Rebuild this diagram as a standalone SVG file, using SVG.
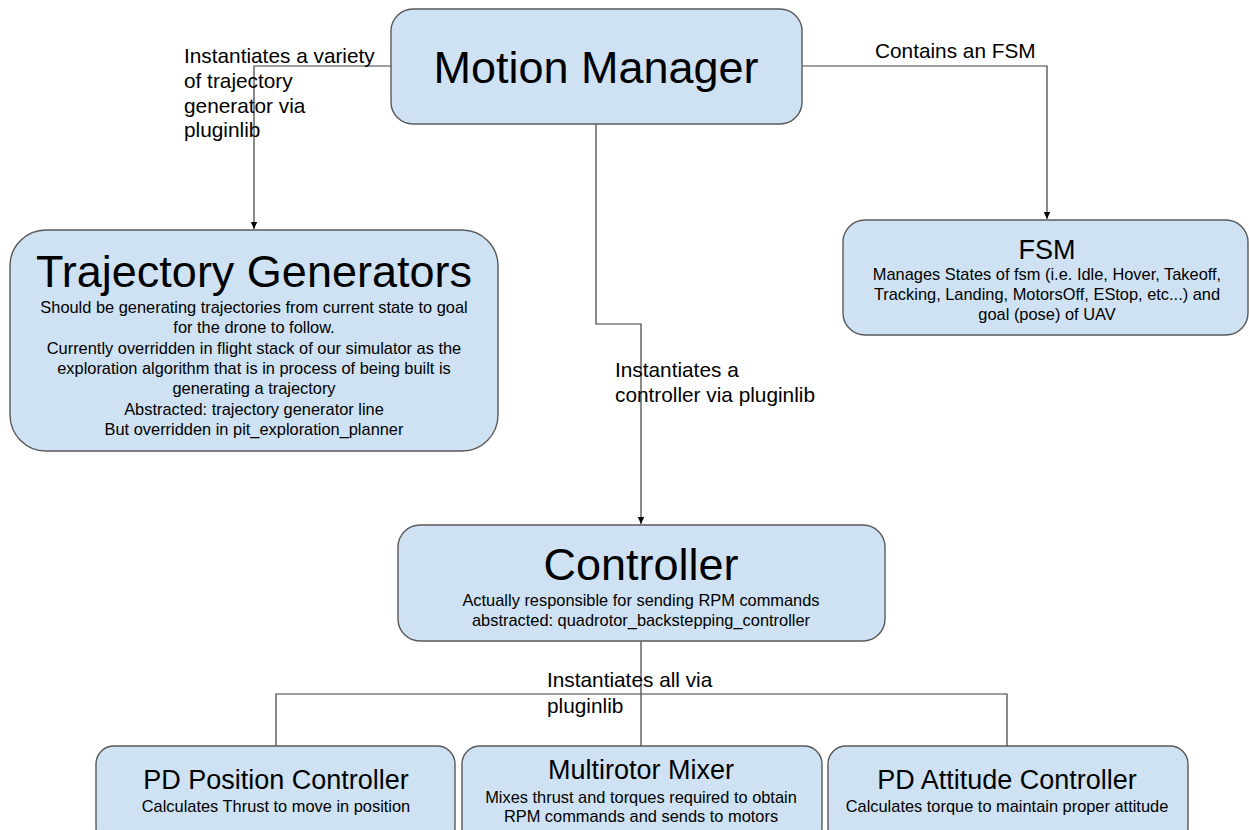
<svg xmlns="http://www.w3.org/2000/svg" width="1249" height="830" viewBox="0 0 1249 830">
  <defs>
    <marker id="arrow" markerWidth="8" markerHeight="8" refX="7" refY="4" orient="auto" markerUnits="userSpaceOnUse">
      <path d="M0,0.8 L7,4 L0,7.2 Z" fill="#000"/>
    </marker>
    <style>
      .box { fill: #cfe2f3; stroke: #595959; stroke-width: 1.4; }
      .wire { fill: none; stroke: #3f3f3f; stroke-width: 1.2; }
      text { font-family: "Liberation Sans", Arial, sans-serif; fill: #000; }
      .big { font-size: 45px; text-anchor: middle; }
      .mid { font-size: 27px; text-anchor: middle; }
      .small { font-size: 16.4px; text-anchor: middle; }
      .label { font-size: 20.8px; }
    </style>
  </defs>
  <rect width="1249" height="830" fill="#fff"/>

  <!-- connectors -->
  <g id="connectors">
    <path class="wire" d="M391,66 H254 V229" marker-end="url(#arrow)"/>
    <path class="wire" d="M802,66 H1047 V219" marker-end="url(#arrow)"/>
    <path class="wire" d="M596,124 V324 H641 V524" marker-end="url(#arrow)"/>
    <path class="wire" d="M641,641 V746"/>
    <path class="wire" d="M276,746 V694 H1007 V746"/>
    <text class="label" x="184" y="63">Instantiates a variety</text>
    <text class="label" x="184" y="88">of trajectory</text>
    <text class="label" x="184" y="113">generator via</text>
    <text class="label" x="184" y="137">pluginlib</text>
    <text class="label" x="875" y="58">Contains an FSM</text>
    <text class="label" x="615" y="377">Instantiates a</text>
    <text class="label" x="615" y="402">controller via pluginlib</text>
    <text class="label" x="547" y="687">Instantiates all via</text>
    <text class="label" x="547" y="713">pluginlib</text>
  </g>

  <!-- Motion Manager -->
  <g id="motion-manager">
    <rect class="box" x="391" y="9" width="411" height="115" rx="22"/>
    <text class="big" x="596" y="83">Motion Manager</text>
  </g>

  <!-- FSM -->
  <g id="fsm">
    <rect class="box" x="843" y="220" width="405" height="115" rx="22"/>
    <text class="mid" x="1047" y="259">FSM</text>
    <text class="small" x="1047" y="280">Manages States of fsm (i.e. Idle, Hover, Takeoff,</text>
    <text class="small" x="1047" y="300">Tracking, Landing, MotorsOff, EStop, etc...) and</text>
    <text class="small" x="1047" y="320">goal (pose) of UAV</text>
  </g>

  <!-- Trajectory Generators -->
  <g id="trajectory-generators">
    <rect class="box" x="10" y="230" width="488" height="221" rx="36"/>
    <text class="big" x="254" y="287">Trajectory Generators</text>
    <text class="small" x="254" y="313">Should be generating trajectories from current state to goal</text>
    <text class="small" x="254" y="333">for the drone to follow.</text>
    <text class="small" x="254" y="354">Currently overridden in flight stack of our simulator as the</text>
    <text class="small" x="254" y="374">exploration algorithm that is in process of being built is</text>
    <text class="small" x="254" y="394">generating a trajectory</text>
    <text class="small" x="254" y="415">Abstracted: trajectory generator line</text>
    <text class="small" x="254" y="435">But overridden in pit_exploration_planner</text>
  </g>

  <!-- Controller -->
  <g id="controller">
    <rect class="box" x="398" y="525" width="487" height="116" rx="22"/>
    <text class="big" x="641" y="580">Controller</text>
    <text class="small" x="641" y="606">Actually responsible for sending RPM commands</text>
    <text class="small" x="641" y="626">abstracted: quadrotor_backstepping_controller</text>
  </g>

  <!-- PD Position Controller -->
  <g id="pd-position-controller">
    <rect class="box" x="96" y="746" width="359" height="100" rx="18"/>
    <text class="mid" x="276" y="789">PD Position Controller</text>
    <text class="small" x="276" y="812">Calculates Thrust to move in position</text>
  </g>

  <!-- Multirotor Mixer -->
  <g id="multirotor-mixer">
    <rect class="box" x="462" y="746" width="360" height="100" rx="18"/>
    <text class="mid" x="641" y="779">Multirotor Mixer</text>
    <text class="small" x="641" y="803">Mixes thrust and torques required to obtain</text>
    <text class="small" x="641" y="822">RPM commands and sends to motors</text>
  </g>

  <!-- PD Attitude Controller -->
  <g id="pd-attitude-controller">
    <rect class="box" x="828" y="746" width="360" height="100" rx="18"/>
    <text class="mid" x="1007" y="789">PD Attitude Controller</text>
    <text class="small" x="1007" y="812">Calculates torque to maintain proper attitude</text>
  </g>
</svg>
